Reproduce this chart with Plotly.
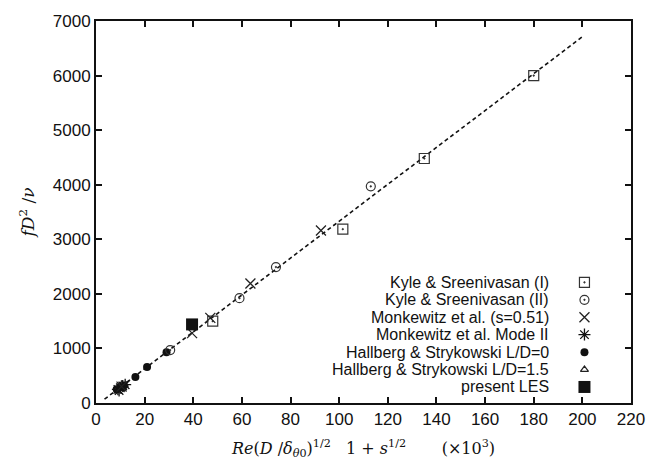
import plotly.graph_objects as go

# ---- data ----
kyle1_x = [48, 101.5, 135, 180]
kyle1_y = [1500, 3185, 4480, 6000]

kyle2_x = [30.5, 59, 74, 113]
kyle2_y = [970, 1920, 2490, 3970]

monk_x = [10.5, 39.5, 47, 63.5, 92.5]
monk_y = [300, 1280, 1560, 2190, 3160]

monk2_x = [9, 10, 11, 12, 9.5]
monk2_y = [250, 280, 310, 335, 230]

hall0_x = [8.5, 10, 11.5, 16.2, 21, 29]
hall0_y = [250, 290, 320, 475, 658, 932]

hall15_x = [9, 10.5]
hall15_y = [260, 300]

les_x = [39.5]
les_y = [1440]

fit_x = [3.5, 200.4]
fit_y = [70, 6725]

legend_labels = ["Kyle & Sreenivasan (I)", "Kyle & Sreenivasan (II)",
                 "Monkewitz et al. (s=0.51)", "Monkewitz et al. Mode II",
                 "Hallberg & Strykowski L/D=0", "Hallberg & Strykowski L/D=1.5",
                 "present LES"]

x_ticks = list(range(0, 221, 20))
y_ticks = list(range(0, 7001, 1000))

# ---- styles ----
styles = [
    dict(symbol="square-open-dot", size=10, color="#333", line=dict(width=1.2, color="#333")),
    dict(symbol="circle-open-dot", size=9, color="#333", line=dict(width=1.2, color="#333")),
    dict(symbol="x-thin-open", size=10, color="#222", line=dict(width=1.3, color="#222")),
    dict(symbol="asterisk-open", size=10, color="#111", line=dict(width=1.3, color="#111")),
    dict(symbol="circle", size=8, color="#111", line=dict(width=0)),
    dict(symbol="triangle-up-open", size=7, color="#222", line=dict(width=1.2, color="#222")),
    dict(symbol="square", size=12, color="#111", line=dict(width=0)),
]

series = [(kyle1_x, kyle1_y), (kyle2_x, kyle2_y), (monk_x, monk_y),
          (monk2_x, monk2_y), (hall0_x, hall0_y), (hall15_x, hall15_y),
          (les_x, les_y)]

fig = go.Figure()

fig.add_trace(go.Scatter(x=fit_x, y=fit_y, mode="lines",
                         line=dict(color="#111", width=1.6, dash="4px,3px"),
                         showlegend=False, hoverinfo="skip"))

draw_order = [4, 5, 3, 0, 1, 2, 6]
for i in draw_order:
    sx, sy = series[i]
    fig.add_trace(go.Scatter(x=sx, y=sy, mode="markers", marker=styles[i],
                             name=legend_labels[i], showlegend=False))

# manual legend (text left, symbol right) on overlay axes
leg_y = [0.316, 0.270, 0.2245, 0.179, 0.133, 0.0875, 0.042]
sym_x = 0.913
txt_x = 0.85
for i, lab in enumerate(legend_labels):
    fig.add_trace(go.Scatter(x=[sym_x], y=[leg_y[i]], mode="markers",
                             marker=styles[i], xaxis="x2", yaxis="y2",
                             showlegend=False, hoverinfo="skip"))
    fig.add_annotation(x=txt_x, y=leg_y[i], xref="x2", yref="y2",
                       text=lab, showarrow=False, xanchor="right",
                       yanchor="middle",
                       font=dict(family="Liberation Sans, Arial", size=16, color="#111"))

axis_common = dict(showline=True, linecolor="#111", linewidth=2, mirror="ticks",
                   ticks="inside", ticklen=6, tickwidth=1.5, tickcolor="#111",
                   showgrid=False, zeroline=False,
                   tickfont=dict(family="Liberation Sans, Arial", size=17, color="#111"))

fig.update_layout(
    width=657, height=470,
    margin=dict(l=96, r=17, t=20, b=67),
    paper_bgcolor="white", plot_bgcolor="white",
    xaxis=dict(range=[0, 220], tickvals=x_ticks, **axis_common,
               title=dict(text="<i>Re</i>(<i>D</i> /<i>δ</i><sub><i>θ</i>0</sub>)<sup>1/2</sup>   1 + <i>s</i><sup>1/2</sup>       (×10<sup>3</sup>)",
                          font=dict(family="DejaVu Serif", size=16, color="#111"),
                          standoff=14)),
    yaxis=dict(range=[0, 7000], tickvals=y_ticks, **axis_common,
               title=dict(text="<i>fD</i><sup>2</sup> /<i>ν</i>",
                          font=dict(family="DejaVu Serif", size=17, color="#111"),
                          standoff=14)),
    xaxis2=dict(range=[0, 1], overlaying="x", visible=False, fixedrange=True),
    yaxis2=dict(range=[0, 1], overlaying="y", visible=False, fixedrange=True),
    showlegend=False,
)

fig.write_html("out.html")
